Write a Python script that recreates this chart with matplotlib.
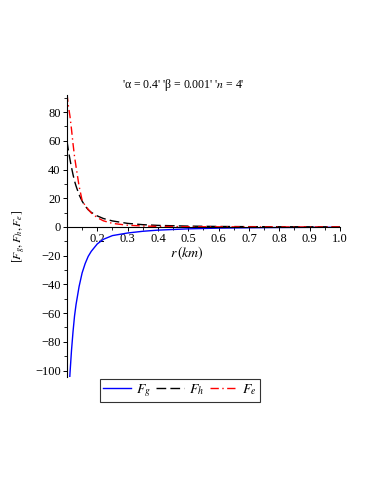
import matplotlib
matplotlib.use("Agg")
import matplotlib.pyplot as plt
from matplotlib.ticker import MultipleLocator, FixedLocator

plt.rcParams['font.family'] = ['Liberation Serif', 'DejaVu Serif']
plt.rcParams['mathtext.fontset'] = 'stix'

r = [0.1, 0.105, 0.11, 0.115, 0.12, 0.125, 0.13, 0.14, 0.15, 0.16, 0.17, 0.18,
     0.2, 0.22, 0.25, 0.3, 0.35, 0.4, 0.5, 0.6, 0.7, 0.8, 0.9, 1.0]
F_g = [-140, -120, -102, -86, -73, -62, -54, -41.5, -32, -25.5, -20.5, -17,
       -11.8, -8.6, -6.0, -4.2, -3.0, -2.2, -1.3, -0.8, -0.55, -0.38, -0.27, -0.2]
F_h = [60, 53, 47, 41.5, 36.5, 32, 28.5, 22.5, 18, 14.6, 12, 10.2,
       7.7, 5.9, 4.2, 2.5, 1.6, 1.1, 0.6, 0.35, 0.22, 0.15, 0.1, 0.07]
F_e = [93, 84, 77, 68, 58, 49, 42, 28.5, 18.5, 15, 12.3, 9.8,
       6.5, 4.3, 2.5, 1.2, 0.7, 0.4, 0.18, 0.09, 0.05, 0.03, 0.02, 0.015]
xticks = [0.2, 0.3, 0.4, 0.5, 0.6, 0.7, 0.8, 0.9, 1.0]
yticks = [-100, -80, -60, -40, -20, 0, 20, 40, 60, 80]

fig = plt.figure(figsize=(3.74, 4.84), dpi=100)
ax = fig.add_axes([0.179, 0.221, 0.730, 0.583])

ax.plot(r, F_g, color='#0000ff', lw=1.0, label=r'$F_g$')
ax.plot(r, F_h, color='black', lw=1.0, dashes=(7, 3), label=r'$F_h$')
ax.plot(r, F_e, color='#ff0000', lw=1.0, dashes=(6, 2.5, 1, 2.5), label=r'$F_e$')

ax.set_xlim(0.1, 1.0)
ax.set_ylim(-104.5, 92)

ax.spines['top'].set_visible(False)
ax.spines['right'].set_visible(False)
ax.spines['bottom'].set_position(('data', 0))
ax.spines['left'].set_position(('data', 0.1))
for s in ('left', 'bottom'):
    ax.spines[s].set_linewidth(0.8)

ax.xaxis.set_major_locator(FixedLocator([0.1] + xticks))
ax.set_xticklabels([''] + ['%.1f' % v for v in xticks])
ax.xaxis.set_minor_locator(MultipleLocator(0.05))
ax.yaxis.set_major_locator(FixedLocator(yticks))
ax.set_yticklabels(['\u2212%d' % -v if v < 0 else '%d' % v for v in yticks])
ax.yaxis.set_minor_locator(MultipleLocator(10))
ax.tick_params(which='major', direction='out', length=3, width=0.7, labelsize=9, pad=1.5)
ax.tick_params(which='minor', direction='out', length=2, width=0.6)

ax.text(0.497, -18, r'$r\,(km)$', fontsize=10, ha='center', va='center')
fig.text(0.053, 0.512, r'$[F_g, F_h, F_e]$', rotation=90, fontsize=8.5,
         ha='center', va='center')
fig.text(0.49, 0.824, "'\u03b1 = 0.4' '\u03b2 = 0.001' '$n$ = 4'", fontsize=8.5,
         ha='center', va='center')

leg = fig.legend(loc='center', bbox_to_anchor=(0.481, 0.193), ncol=3, fontsize=10,
                 frameon=True, fancybox=False, edgecolor='black', handlelength=2.0,
                 columnspacing=0.4, handletextpad=0.35, borderpad=0.25,
                 borderaxespad=0)
leg.get_frame().set_linewidth(0.8)

fig.savefig('out.png', dpi=100)
